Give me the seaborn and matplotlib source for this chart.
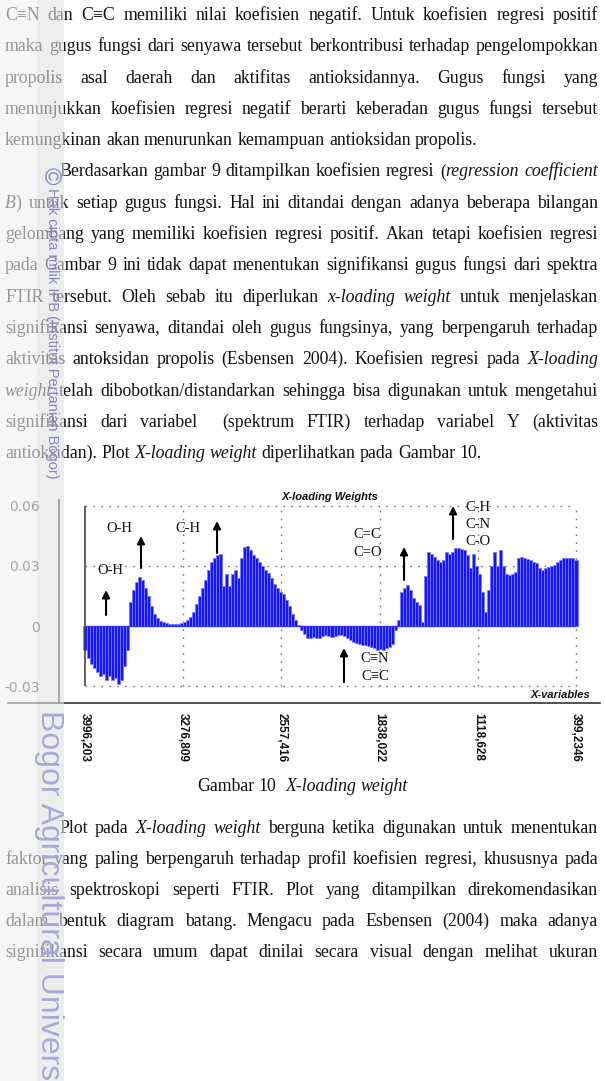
import numpy as np
import pandas as pd
import matplotlib
matplotlib.use("Agg")
import matplotlib.pyplot as plt
from matplotlib.patches import Rectangle
import seaborn as sns

# ---- chart data ----
wn_start, wn_end = 3996.203, 399.2346
loading = [
    -0.012, -0.016, -0.019, -0.021, -0.023, -0.025, -0.024, -0.027, -0.025, -0.027,
    -0.026, -0.029, -0.027, -0.020, -0.012, 0.012, 0.018, 0.022, 0.0245, 0.023,
    0.019, 0.015, 0.010, 0.006, 0.004, 0.0025, 0.0018, 0.0013, 0.001, 0.001,
    0.001, 0.0012, 0.0015, 0.002, 0.003, 0.0045, 0.007, 0.011, 0.015, 0.019,
    0.023, 0.028, 0.032, 0.034, 0.0355, 0.036, 0.020, 0.026, 0.020, 0.026,
    0.028, 0.024, 0.034, 0.0395, 0.040, 0.038, 0.0355, 0.034, 0.032, 0.030,
    0.028, 0.0265, 0.024, 0.021, 0.019, 0.017, 0.016, 0.013, 0.010, 0.006,
    0.003, 0.0005, -0.002, -0.004, -0.006, -0.006, -0.0055, -0.006, -0.006, -0.005,
    -0.0045, -0.005, -0.0055, -0.005, -0.0045, -0.0045, -0.005, -0.006, -0.007, -0.008,
    -0.0085, -0.009, -0.0095, -0.0095, -0.010, -0.0105, -0.011, -0.012, -0.0115, -0.012,
    -0.011, -0.0105, -0.009, -0.002, 0.003, 0.017, 0.019, 0.0205, 0.018, 0.014,
    0.012, 0.0105, 0.002, 0.025, 0.037, 0.036, 0.0345, 0.033, 0.032, 0.033,
    0.037, 0.036, 0.037, 0.039, 0.039, 0.0385, 0.038, 0.0355, 0.029, 0.036,
    0.030, 0.026, 0.017, 0.007, 0.018, 0.030, 0.037, 0.030, 0.038, 0.030,
    0.026, 0.0255, 0.026, 0.027, 0.034, 0.0345, 0.034, 0.0335, 0.033, 0.032,
    0.0315, 0.029, 0.028, 0.029, 0.0295, 0.030, 0.0305, 0.032, 0.033, 0.034,
    0.034, 0.034, 0.034, 0.033,
]
xtick_pos = [3996.203, 3276.809, 2557.416, 1838.022, 1118.628, 399.2346]
xtick_labels = ["3996,203", "3276,809", "2557,416", "1838,022", "1118,628", "399,2346"]
ytick_pos = [-0.03, 0, 0.03, 0.06]
ytick_labels = ["-0.03", "0", "0.03", "0.06"]
ytick_minor = [-0.02, -0.01, 0.01, 0.02, 0.04, 0.05]

# (label, x, y) and arrows (x, tail y, head y), in data units
peak_labels = [
    ("O-H", 3810, 0.028), ("O-H", 3747, 0.0485), ("C-H", 3245, 0.0485),
    ("C=C", 1927, 0.0455), ("C=O", 1927, 0.037),
    ("C-H", 1117, 0.059), ("C-N", 1117, 0.0505), ("C-O", 1117, 0.042),
    ("C\u2261N", 1872, -0.016), ("C\u2261C", 1872, -0.0255),
]
peak_arrows = [
    (3842, 0.0055, 0.018), (3586, 0.029, 0.045), (3029, 0.0365, 0.0525),
    (1659, 0.023, 0.0395), (1300, 0.0435, 0.060), (2099, -0.028, -0.011),
]

# ---- page text ----
para1 = [
    "C\u2261N dan C\u2261C memiliki nilai koefisien negatif. Untuk koefisien regresi positif",
    "maka gugus fungsi dari senyawa tersebut berkontribusi terhadap pengelompokkan",
    "propolis asal daerah dan aktifitas antioksidannya. Gugus fungsi yang",
    "menunjukkan koefisien regresi negatif berarti keberadan gugus fungsi tersebut",
    "kemungkinan akan menurunkan kemampuan antioksidan propolis.",
]
para2 = [
    "Berdasarkan gambar 9 ditampilkan koefisien regresi (*regression coefficient*",
    "*B*) untuk setiap gugus fungsi. Hal ini ditandai dengan adanya beberapa bilangan",
    "gelombang yang memiliki koefisien regresi positif. Akan tetapi koefisien regresi",
    "pada Gambar 9 ini tidak dapat menentukan signifikansi gugus fungsi dari spektra",
    "FTIR tersebut. Oleh sebab itu diperlukan *x-loading weight* untuk menjelaskan",
    "signifikansi senyawa, ditandai oleh gugus fungsinya, yang berpengaruh terhadap",
    "aktivitas antoksidan propolis (Esbensen 2004). Koefisien regresi pada *X-loading*",
    "*weight* telah dibobotkan/distandarkan sehingga bisa digunakan untuk mengetahui",
    "signifikansi dari variabel  (spektrum FTIR) terhadap variabel Y (aktivitas",
    "antioksidan). Plot *X-loading weight* diperlihatkan pada Gambar 10.",
]
caption = "Gambar 10  *X-loading weight*"
para3 = [
    "Plot pada *X-loading weight* berguna ketika digunakan untuk menentukan",
    "faktor yang paling berpengaruh terhadap profil koefisien regresi, khususnya pada",
    "analisis spektroskopi seperti FTIR. Plot yang ditampilkan direkomendasikan",
    "dalam bentuk diagram batang. Mengacu pada Esbensen (2004) maka adanya",
    "signifikansi secara umum dapat dinilai secara visual dengan melihat ukuran",
]

W, H = 606, 1081
SERIF = ["Liberation Serif", "DejaVu Serif"]
SANS = ["Liberation Sans", "DejaVu Sans"]
FS = 12.8

sns.set_style("white")
fig = plt.figure(figsize=(W / 100, H / 100), dpi=100)
renderer = fig.canvas.get_renderer()


def fx(px):
    return px / W


def fy(py):
    return 1 - py / H


def parse(line):
    words, cur, buf, italic = [], [], "", False
    for ch in line:
        if ch == "*":
            if buf:
                cur.append((buf, italic))
                buf = ""
            italic = not italic
        elif ch == " ":
            if buf:
                cur.append((buf, italic))
                buf = ""
            words.append(cur)
            cur = []
        else:
            buf += ch
    if buf:
        cur.append((buf, italic))
    words.append(cur)
    return words


def draw_line(line, x0, x1, yc, justify):
    items = []
    for word in parse(line):
        ts, ww = [], 0
        for s, it in word:
            t = fig.text(0, fy(yc + 5), s, fontsize=FS, family=SERIF, color="#111111",
                         style="italic" if it else "normal", ha="left", va="baseline")
            w = t.get_window_extent(renderer).width
            ts.append((t, w))
            ww += w
        items.append((ts, ww))
    space = 0.25 * FS * 100 / 72
    total = sum(ww for _, ww in items)
    gap = space
    if justify and len(items) > 1:
        gap = max((x1 - x0 - total) / (len(items) - 1), space * 0.6)
    x = x0
    for ts, ww in items:
        for t, w in ts:
            t.set_x(fx(x))
            x += w
        x += gap


LEFT, RIGHT, INDENT, LS = 5, 598, 59, 31.3
y = 15
for i, ln in enumerate(para1):
    draw_line(ln, LEFT, RIGHT, y, i < len(para1) - 1)
    y += LS
for i, ln in enumerate(para2):
    draw_line(ln, INDENT if i == 0 else LEFT, RIGHT, y, i < len(para2) - 1)
    y += LS
draw_line(caption, 197, RIGHT, 786, False)
y = 828
for i, ln in enumerate(para3):
    draw_line(ln, INDENT if i == 0 else LEFT, RIGHT, y, True)
    y += 31

# ---- chart ----
ax = fig.add_axes([fx(8), 1 - 703 / H, 592 / W, (703 - 490) / H])
df = pd.DataFrame({"wavenumber": np.linspace(wn_start, wn_end, len(loading)),
                   "loading": loading})
sns.barplot(data=df, x="wavenumber", y="loading", native_scale=True, color="#1414ff",
            saturation=1, width=1.0, edgecolor="#7c7cff", linewidth=0.6,
            errorbar=None, ax=ax, zorder=2)

grid_kw = dict(color="#777777", linewidth=1, linestyle=(0, (1.2, 4.5)), zorder=1)
ax.hlines([ytick_pos[0], ytick_pos[2], ytick_pos[3]], wn_start, wn_end, **grid_kw)
ax.vlines(xtick_pos[1:], ytick_pos[0], ytick_pos[-1], **grid_kw)
ax.vlines(wn_start, ytick_pos[0], ytick_pos[-1], color="#444444", linewidth=1.2, zorder=3)
ax.hlines(0, wn_start, wn_end, color="#3333ff", linewidth=1, zorder=3)

ax.set_xlim(4560.3, 223.4)
ax.set_ylim(-0.0385, 0.068)
ax.set_xlabel("")
ax.set_ylabel("")
ax.set_xticks(xtick_pos)
ax.set_xticklabels(xtick_labels, rotation=270, fontsize=8.5, fontweight="bold",
                   family=SANS, color="#111111")
ax.set_yticks(ytick_pos)
ax.set_yticklabels(ytick_labels, fontsize=8.5, fontweight="bold", family=SANS,
                   color="#333333")
ax.set_yticks(ytick_minor, minor=True)
ax.tick_params(axis="x", direction="out", length=5, width=1, pad=2, colors="#111111")
ax.tick_params(axis="y", which="major", direction="out", length=9, width=1, pad=5,
               colors="#333333")
ax.tick_params(axis="y", which="minor", direction="out", length=4.5, width=1,
               colors="#333333")
for side in ["top", "right"]:
    ax.spines[side].set_visible(False)
ax.spines["left"].set_position(("data", 4186.7))
ax.spines["left"].set_bounds(-0.0385, 0.063)
for side in ["left", "bottom"]:
    ax.spines[side].set_color("#333333")
    ax.spines[side].set_linewidth(1.2)
ax.patch.set_alpha(0)

for txt, x, yv in peak_labels:
    ax.text(x, yv, txt, fontsize=10.5, family=SERIF, ha="center", va="center",
            color="#111111", zorder=5)
for x, y0, y1 in peak_arrows:
    ax.annotate("", xy=(x, y1), xytext=(x, y0),
                arrowprops=dict(arrowstyle="-|>", color="black", lw=1.5,
                                mutation_scale=11, shrinkA=0, shrinkB=0), zorder=5)

fig.text(fx(330), fy(497), "X-loading Weights", fontsize=8, fontweight="bold",
         style="italic", family=SANS, ha="center", va="center", color="#111111")
fig.text(fx(590), fy(695), "X-variables", fontsize=8, fontweight="bold",
         style="italic", family=SANS, ha="right", va="center", color="#111111")

# ---- scan watermark strip ----
fig.patches.append(Rectangle((0, 0), fx(37), 1, transform=fig.transFigure,
                             facecolor="#f0f0f0", edgecolor="none", alpha=0.6, zorder=10))
fig.patches.append(Rectangle((fx(37), 0), fx(27), 1, transform=fig.transFigure,
                             facecolor="#e2e2e2", edgecolor="none", alpha=0.6, zorder=10))
fig.text(fx(50), fy(176), "\u00a9", fontsize=17, family=SANS, rotation=270,
         ha="center", va="center", color="#8a8ac4", zorder=11)
fig.text(fx(52), fy(188), "Hak cipta milik IPB (Institut Pertanian Bogor)", fontsize=10.5,
         family=SANS, rotation=270, ha="center", va="top", color="#8585c0", zorder=11)
fig.text(fx(49), fy(710), "Bogor Agricultural University", fontsize=23, family=SANS,
         rotation=270, ha="center", va="top", color="#a9a9d6", zorder=11)

fig.savefig("out.png", dpi=100)
